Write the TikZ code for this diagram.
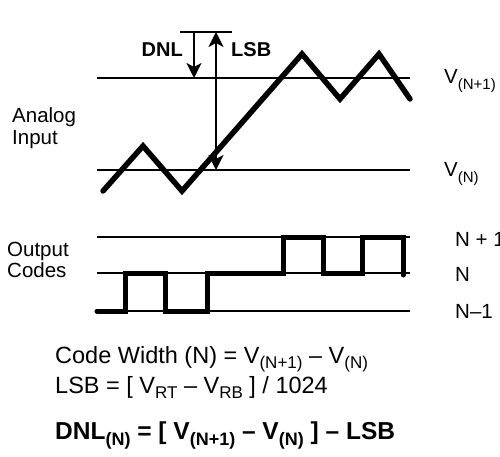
\documentclass[tikz,border=0pt]{standalone}
\usepackage{fontspec}
\setmainfont{Liberation Sans}
\usetikzlibrary{arrows.meta}
\newcommand{\lowsub}[2]{\raisebox{-0.25em}{\fontsize{#1}{#1}\selectfont #2}}
\begin{document}
\begin{tikzpicture}[x=1pt,y=-1pt,
  thinline/.style={line width=1.3pt},
  wave/.style={line width=5.5pt, line cap=round, line join=miter},
  arrowline/.style={line width=2.2pt},
  tip/.style={-{Stealth[length=15pt,width=15pt,inset=4pt]}},
  dtip/.style={{Stealth[length=15pt,width=15pt,inset=4pt]}-{Stealth[length=15pt,width=15pt,inset=4pt]}},
  lbl/.style={inner sep=0pt, anchor=base west},
  side/.style={inner sep=0pt, anchor=base west, font=\fontsize{20.5}{20.5}\selectfont},
  formula/.style={inner sep=0pt, anchor=base west, font=\fontsize{23.5}{23.5}\selectfont}]
\useasboundingbox (0,0) rectangle (500,457);
\fill[white] (0,0) rectangle (500,457);

% reference lines, analog input
\coordinate (vtopL) at (97,78);   \coordinate (vtopR) at (410,78);
\coordinate (vbotL) at (97,170);  \coordinate (vbotR) at (410,170);
\draw[thinline] (vtopL) -- (vtopR);
\draw[thinline] (vbotL) -- (vbotR);

% short bar at top
\coordinate (barL) at (180,32); \coordinate (barR) at (232,32);
\draw[arrowline] (barL) -- (barR);

% DNL arrow
\coordinate (dnlA) at (194,32); \coordinate (dnlB) at (194,78);
\draw[arrowline, tip] (dnlA) -- (dnlB);
% LSB arrow
\coordinate (lsbA) at (216,32); \coordinate (lsbB) at (216,170);
\draw[arrowline, dtip] (lsbA) -- (lsbB);

% analog waveform
\draw[wave] (103,191) -- (143,146) -- (182,191) -- (302,54) -- (340,99) -- (379,54) -- (410,99);

% output code lines
\coordinate (cTopL) at (97,237); \coordinate (cTopR) at (410,237);
\coordinate (cMidL) at (97,273); \coordinate (cMidR) at (410,273);
\coordinate (cBotL) at (97,311); \coordinate (cBotR) at (410,311);
\draw[thinline] (cTopL) -- (cTopR);
\draw[thinline] (cMidL) -- (cMidR);
\draw[thinline] (cBotL) -- (cBotR);

% output code waveform
\draw[wave, line width=5pt] (97,311) -- (125,311) -- (125,273) -- (165,273) -- (165,311) -- (207,311) -- (207,273)
  -- (283,273) -- (283,237) -- (323,237) -- (323,273) -- (362,273) -- (362,237) -- (403,237) -- (403,275);

% labels
\node[lbl, anchor=base east, font=\bfseries\fontsize{20}{20}\selectfont] (dnl) at (183,57) {DNL};
\node[lbl, font=\bfseries\fontsize{20}{20}\selectfont] (lsb) at (231,57) {LSB};

\node[side] (an1) at (12,123) {Analog};
\node[side] (an2) at (12,145) {Input};
\node[side] (oc1) at (7,256) {Output};
\node[side] (oc2) at (7,277) {Codes};

\node[side] (vn1) at (444,84) {V\lowsub{15}{(N+1)}};
\node[side] (vn) at (444,177) {V\lowsub{15}{(N)}};
\node[side] (n1) at (455,246) {N + 1};
\node[side] (n0) at (455,281) {N};
\node[side] (nm) at (455,318) {N\textendash1};

\node[formula] (cw) at (55,363) {Code Width (N) = V\lowsub{17}{(N+1)} \textendash{} V\lowsub{17}{(N)}};
\node[formula] (lsbf) at (55,393) {LSB = [ V\lowsub{17}{RT} \textendash{} V\lowsub{17}{RB} ] / 1024};
\node[formula, font=\bfseries\fontsize{24.5}{24.5}\selectfont] (dnlf) at (55,439) {DNL\lowsub{18}{(N)} = [ V\lowsub{18}{(N+1)} \textendash{} V\lowsub{18}{(N)} ] \textendash{} LSB};
\end{tikzpicture}
\end{document}
